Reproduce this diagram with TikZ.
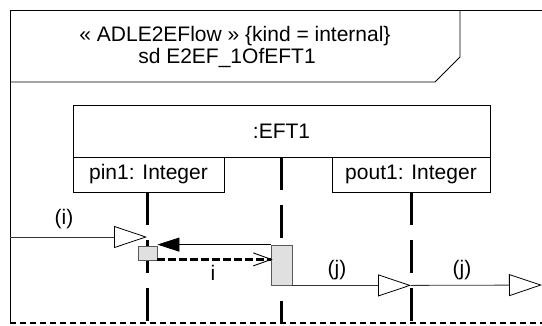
\documentclass[tikz,border=0pt]{standalone}
\usepackage{fontspec}
\setmainfont{Liberation Sans}
\usetikzlibrary{arrows.meta,calc}
\begin{document}
\begin{tikzpicture}[x=1pt,y=-1pt,
  txt/.style={font=\fontsize{21}{25}\selectfont, inner sep=0pt},
  thinline/.style={line width=0.8pt, draw=black},
  boxn/.style={draw=black, line width=0.8pt, inner sep=0pt, font=\fontsize{21}{25}\selectfont},
  lifeline/.style={line width=3pt, dash pattern=on 33pt off 15pt},
  execbox/.style={draw=black!65, fill=black!12, line width=0.8pt, inner sep=0pt},
  msg/.style={line width=0.8pt, draw=black!80, -{Triangle[open, length=33pt, width=22pt, line width=0.8pt, color=black]}},
  call/.style={line width=0.8pt, -{Triangle[length=22pt, width=14pt]}},
  ret/.style={line width=2.6pt, dash pattern=on 8pt off 3pt, -{Straight Barb[length=18pt, width=13pt, line width=0.9pt]}}
]
\useasboundingbox (0,0) rectangle (542,325);

% frame
\draw[thinline] (542,10) -- (10,10) -- (10,323);
\draw[line width=1.3pt, dash pattern=on 6pt off 4pt] (10,323) -- (542,323);
\draw[thinline] (460,10) -- (460,57) -- (435,82) -- (10,82);
\node[txt, anchor=base] (h1) at (235,41) {« ADLE2EFlow » \{kind = internal\}};
\node[txt, anchor=base] (h2) at (227,63) {sd E2EF\_1OfEFT1};

% lifeline head
\node[boxn, minimum width=417pt, minimum height=52pt] (head) at (281.5,131) {:EFT1};
\node[boxn, minimum width=151pt, minimum height=35pt] (pin) at (148.5,174.5) {pin1: Integer};
\node[boxn, minimum width=158pt, minimum height=35pt] (pout) at (411,174.5) {pout1: Integer};

% lifelines
\coordinate (l1t) at (147,192);
\coordinate (l1b) at (147,324);
\coordinate (l2t) at (281.5,157);
\coordinate (l2b) at (281.5,324);
\coordinate (l3t) at (411,192);
\coordinate (l3b) at (411,324);
\draw[lifeline] (l1t) -- (l1b);
\draw[lifeline] (l2t) -- (l2b);
\draw[lifeline] (l3t) -- (l3b);

% execution boxes
\node[execbox, minimum width=19pt, minimum height=14pt] (ex1) at (147.5,253) {};
\node[execbox, minimum width=21pt, minimum height=40pt] (act) at (281.5,265) {};

% messages
\coordinate (inL) at (10,237);
\coordinate (inR) at (147,237);
\draw[msg] (inL) -- (inR);
\node[txt] (li) at (64,219) {(i)};

\draw[call] (act.north west) -- (act.north west -| ex1.east);
\draw[ret] ([yshift=1pt]ex1.south east) -- ([yshift=1pt,xshift=2pt]ex1.south east -| act.west);
\node[txt] (lii) at (213,273) {i};

\draw[msg] (act.south east) -- (act.south east -| l3t) coordinate (j1end);
\node[txt] (lj1) at (337,270) {(j)};
\coordinate (outR) at (542,285);
\draw[msg] (j1end) -- (outR);
\node[txt] (lj2) at (462,270) {(j)};
\end{tikzpicture}
\end{document}
